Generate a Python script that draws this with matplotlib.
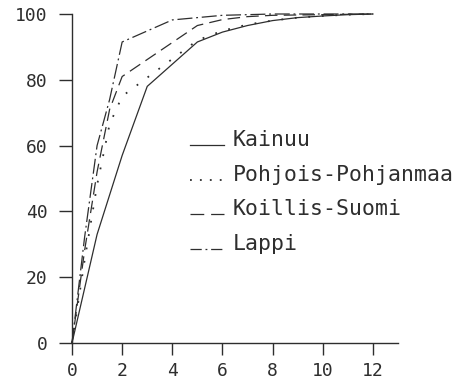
import matplotlib
matplotlib.use("Agg")
import matplotlib.pyplot as plt
from matplotlib.lines import Line2D

# cumulative percentages per region
kainuu_x = [0, 1, 2, 3, 5, 6, 7, 8, 9, 10, 11, 12]
kainuu_y = [0, 33, 57, 78, 91.5, 94.5, 96.5, 98, 98.9, 99.4, 99.8, 100]

pohjois_x = [0, 0.5, 1, 1.5, 2, 5, 6, 7, 8, 9, 10, 11, 12]
pohjois_y = [0, 25, 48, 66.5, 75, 92, 94.9, 96.8, 98, 98.9, 99.4, 99.8, 100]

koillis_x = [0, 0.5, 1, 1.5, 2, 5, 6, 7, 8, 12]
koillis_y = [0, 28, 52, 71, 81, 96.5, 98.3, 99.2, 99.6, 100]

lappi_x = [0, 0.5, 1, 1.5, 2, 4, 6, 8, 12]
lappi_y = [0, 32, 60, 74, 91.5, 98.2, 99.6, 100, 100]

labels = ["Kainuu", "Pohjois-Pohjanmaa", "Koillis-Suomi", "Lappi"]
xticks = [0, 2, 4, 6, 8, 10, 12]
yticks = [0, 20, 40, 60, 80, 100]

ink = "#2e2e2e"
font = "DejaVu Sans Mono"
styles = [
    "-",
    (0, (1.0, 6.5)),
    (0, (10, 5)),
    (0, (12, 3, 1.5, 3)),
]
# shorter patterns for the legend samples
key_styles = [
    "-",
    (0, (1.0, 4.5)),
    (0, (11, 5.5)),
    (0, (9, 3, 1.5, 3)),
]
widths = [0.9, 1.3, 0.9, 0.9]

fig = plt.figure(figsize=(4.61, 3.83), dpi=100)
ax = fig.add_axes([72 / 461, 40 / 383, 326 / 461, 329 / 383])

series = [(kainuu_x, kainuu_y), (pohjois_x, pohjois_y),
          (koillis_x, koillis_y), (lappi_x, lappi_y)]
for (xs, ys), ls, lw in zip(series, styles, widths):
    ax.plot(xs, ys, color=ink, linestyle=ls, linewidth=lw, clip_on=False)

ax.set_xlim(0, 13.0)
ax.set_ylim(0, 100)
ax.set_xticks(xticks)
ax.set_yticks(yticks)
ax.set_xticklabels([str(v) for v in xticks], fontfamily=font, fontsize=13, color=ink)
ax.set_yticklabels([str(v) for v in yticks], fontfamily=font, fontsize=13, color=ink)
ax.tick_params(axis="y", direction="out", length=9.4, width=1.0, pad=8, color=ink)
ax.tick_params(axis="x", direction="out", length=8.6, width=1.0, pad=5, color=ink)
for side in ("top", "right"):
    ax.spines[side].set_visible(False)
for side in ("left", "bottom"):
    ax.spines[side].set_color(ink)
    ax.spines[side].set_linewidth(1.0)

# legend drawn by hand: short line sample on the baseline, then the name
rows = [146, 181, 215, 250]
for lab, ls, lw, row in zip(labels, key_styles, widths, rows):
    yf = 1 - row / 383
    sample = Line2D([190 / 461, 224 / 461], [yf + 1 / 383, yf + 1 / 383],
                    transform=fig.transFigure, color=ink, linestyle=ls,
                    linewidth=lw)
    fig.add_artist(sample)
    fig.text(233 / 461, yf, lab, fontfamily=font, fontsize=15.5,
             color=ink, va="baseline", ha="left")

fig.savefig("out.png", dpi=100)
